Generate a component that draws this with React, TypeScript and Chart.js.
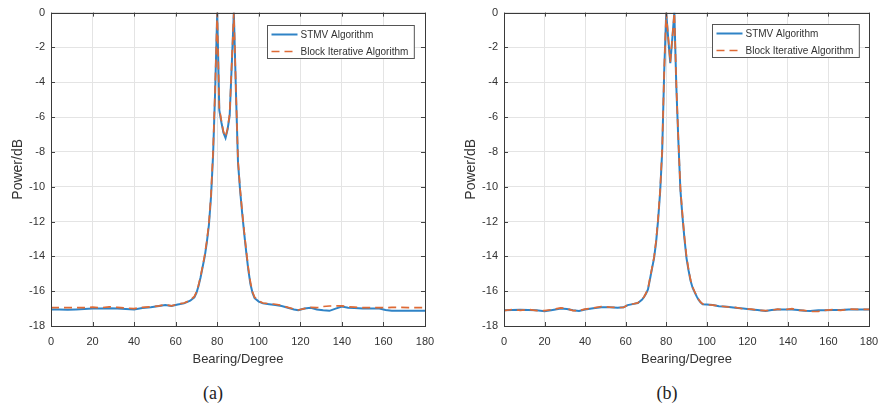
import React, { useEffect, useRef } from "react";
import { Chart, registerables } from "chart.js";
Chart.register(...registerables);

const xTicks = [0, 20, 40, 60, 80, 100, 120, 140, 160, 180];
const yTicks = [0, -2, -4, -6, -8, -10, -12, -14, -16, -18];
const seriesLabels = ["STMV Algorithm", "Block Iterative Algorithm"];
const xTitle = "Bearing/Degree";
const yTitle = "Power/dB";
const captions = ["(a)", "(b)"];

const bearingA = [0, 4, 8, 12, 16, 20, 24, 28, 32, 36, 40, 44, 48, 52, 55, 58, 61, 64, 67,
  69, 70, 71, 72, 73, 74, 75, 76, 77, 78, 79, 80, 81, 82, 83, 84, 85, 86, 87, 88, 89, 90, 91, 92, 93, 94, 95, 96, 97, 98,
  100, 102, 105, 108, 111, 114, 117, 119, 122, 125, 128, 131, 134, 137, 140, 143, 146, 150, 154, 158, 161, 164, 168, 172, 176, 180];
const stmvA = [-17.05, -17.05, -17.06, -17.05, -17.03, -17.0, -17.0, -16.98, -17.0, -17.02, -17.05, -16.97, -16.92, -16.85, -16.8, -16.85, -16.76, -16.7, -16.55,
  -16.35, -16.1, -15.7, -15.2, -14.6, -14.0, -13.2, -12.2, -10.6, -8.2, -4.5, 0, -5.6, -6.3, -6.9, -7.2, -6.7, -5.9, -3.0, 0, -4.5, -8.6, -10.2, -11.5, -12.7, -13.8, -14.8, -15.6, -16.1, -16.4,
  -16.6, -16.7, -16.75, -16.8, -16.85, -16.95, -17.05, -17.1, -17.0, -16.95, -17.05, -17.1, -17.13, -17.0, -16.88, -16.95, -16.97, -17.0, -17.0, -17.0, -17.08, -17.13, -17.13, -17.12, -17.12, -17.12];
const blockA = [-16.95, -16.95, -16.94, -16.95, -16.95, -16.92, -16.95, -16.9, -16.93, -16.97, -17.0, -16.93, -16.9, -16.84, -16.78, -16.84, -16.74, -16.68, -16.53,
  -16.3, -16.05, -15.65, -15.15, -14.55, -13.9, -13.1, -12.1, -10.5, -8.0, -4.3, 0, -5.5, -6.2, -6.85, -7.15, -6.65, -5.8, -2.9, 0, -4.4, -8.5, -10.1, -11.4, -12.6, -13.7, -14.7, -15.5, -16.05, -16.35,
  -16.55, -16.68, -16.72, -16.75, -16.82, -16.93, -17.03, -17.08, -17.0, -16.93, -16.95, -16.88, -16.85, -16.85, -16.84, -16.9, -16.92, -16.95, -16.95, -16.95, -16.95, -16.93, -16.93, -16.94, -16.94, -16.95];

const bearingB = [0, 4, 8, 12, 16, 20, 24, 28, 31, 34, 37, 40, 44, 48, 52, 56, 59, 61, 64, 66, 68,
  69, 70, 71, 72, 73, 74, 75, 76, 77, 78, 79, 80, 81, 82, 83, 84, 85, 86, 87, 88, 89, 90, 91, 92, 93, 94, 95, 96, 97, 98,
  100, 103, 106, 110, 114, 118, 122, 125, 129, 132, 135, 138, 142, 145, 148, 151, 155, 158, 162, 166, 170, 175, 180];
const stmvB = [-17.1, -17.08, -17.07, -17.08, -17.1, -17.15, -17.08, -17.0, -17.03, -17.1, -17.14, -17.05, -16.98, -16.92, -16.93, -16.95, -16.93, -16.8, -16.73, -16.68, -16.5,
  -16.35, -16.15, -15.9, -15.3, -14.7, -14.1, -13.2, -11.9, -10.3, -8.0, -3.4, 0, -1.5, -2.9, -1.5, 0, -4.3, -7.4, -10.2, -11.7, -13.0, -14.1, -14.8, -15.4, -15.8, -16.05, -16.3, -16.5, -16.65, -16.75,
  -16.77, -16.8, -16.87, -16.9, -16.95, -17.0, -17.05, -17.08, -17.14, -17.08, -17.05, -17.05, -17.05, -17.08, -17.12, -17.14, -17.1, -17.1, -17.08, -17.08, -17.05, -17.05, -17.05];
const blockB = [-17.12, -17.05, -17.1, -17.05, -17.12, -17.12, -17.05, -16.96, -17.0, -17.12, -17.12, -17.03, -16.97, -16.88, -16.92, -16.94, -16.93, -16.78, -16.72, -16.67, -16.48,
  -16.33, -16.12, -15.85, -15.25, -14.65, -14.05, -13.1, -11.8, -10.2, -7.9, -3.3, 0, -1.45, -2.85, -1.45, 0, -4.2, -7.3, -10.1, -11.6, -12.9, -14.0, -14.75, -15.35, -15.75, -16.02, -16.28, -16.48, -16.63, -16.74,
  -16.77, -16.8, -16.85, -16.9, -16.93, -17.02, -17.03, -17.1, -17.12, -17.1, -17.03, -17.07, -17.0, -17.1, -17.1, -17.17, -17.16, -17.1, -17.06, -17.1, -17.03, -17.04, -17.05];

const FONT = "'Liberation Sans', Arial, Helvetica, sans-serif";
const BLUE = "#2f83c6";
const ORANGE = "#de6a35";
const CANVAS_W = 444;
const CANVAS_H = 375;

type PanelProps = {
  xs: number[];
  s1: number[];
  s2: number[];
  left: number;
  yAxisW: number;
  padTop: number;
  padRight: number;
  plotBottom: number;
  yTitlePad: number;
  legendRightGap: number;
  legendTopGap: number;
};

function Panel(p: PanelProps) {
  const ref = useRef<HTMLCanvasElement | null>(null);
  useEffect(() => {
    if (!ref.current) return;
    const framePlugin = {
      id: "frameAndLegend",
      afterDatasetsDraw(chart: any) {
        const { ctx, chartArea: a, scales } = chart;
        ctx.save();
        ctx.strokeStyle = "#444";
        ctx.lineWidth = 1;
        const tl = 4;
        ctx.beginPath();
        for (const v of xTicks) {
          const x = Math.round(scales.x.getPixelForValue(v)) + 0.5;
          ctx.moveTo(x, a.bottom);
          ctx.lineTo(x, a.bottom - tl);
          ctx.moveTo(x, a.top);
          ctx.lineTo(x, a.top + tl);
        }
        for (const v of yTicks) {
          const y = Math.round(scales.y.getPixelForValue(v)) + 0.5;
          ctx.moveTo(a.left, y);
          ctx.lineTo(a.left + tl, y);
          ctx.moveTo(a.right, y);
          ctx.lineTo(a.right - tl, y);
        }
        ctx.stroke();
        ctx.strokeStyle = "#3a3a3a";
        ctx.lineWidth = 1;
        ctx.strokeRect(Math.round(a.left) + 0.5, Math.round(a.top) + 0.5, Math.round(a.right - a.left), Math.round(a.bottom - a.top));
        ctx.font = `10px ${FONT}`;
        const textW = Math.max(...seriesLabels.map((s) => ctx.measureText(s).width));
        const sample = 26;
        const boxW = 4 + sample + 3 + textW + 6;
        const boxH = 33;
        const bx = Math.round(a.right - p.legendRightGap - boxW) + 0.5;
        const by = Math.round(a.top + p.legendTopGap) + 0.5;
        ctx.fillStyle = "#ffffff";
        ctx.fillRect(bx, by, boxW, boxH);
        ctx.strokeStyle = "#555";
        ctx.strokeRect(bx, by, boxW, boxH);
        const rows = [by + 9, by + 26];
        chart.data.datasets.forEach((ds: any) => {
          const ry = rows[ds.legendIndex];
          ctx.strokeStyle = ds.borderColor;
          ctx.lineWidth = ds.borderWidth;
          ctx.setLineDash(ds.borderDash || []);
          ctx.beginPath();
          ctx.moveTo(bx + 4, ry);
          ctx.lineTo(bx + 4 + sample, ry);
          ctx.stroke();
          ctx.setLineDash([]);
          ctx.fillStyle = "#333";
          ctx.textBaseline = "middle";
          ctx.textAlign = "left";
          ctx.fillText(ds.label, bx + 4 + sample + 3, ry + 0.5);
        });
        ctx.restore();
      },
    };

    const chart = new Chart(ref.current, {
      type: "line",
      data: {
        datasets: [
          {
            label: seriesLabels[1],
            legendIndex: 1,
            data: p.xs.map((x, i) => ({ x, y: p.s2[i] })),
            borderColor: ORANGE,
            borderWidth: 1.7,
            borderDash: [8, 5],
            pointRadius: 0,
            tension: 0,
            fill: false,
          } as any,
          {
            label: seriesLabels[0],
            legendIndex: 0,
            data: p.xs.map((x, i) => ({ x, y: p.s1[i] })),
            borderColor: BLUE,
            borderWidth: 2,
            pointRadius: 0,
            tension: 0,
            fill: false,
          } as any,
        ],
      },
      options: {
        responsive: false,
        animation: false,
        events: [],
        layout: { padding: { top: p.padTop, right: p.padRight, left: 0, bottom: 0 } },
        plugins: { legend: { display: false }, tooltip: { enabled: false }, title: { display: false } },
        scales: {
          x: {
            type: "linear",
            min: 0,
            max: 180,
            afterBuildTicks: (s: any) => {
              s.ticks = xTicks.map((v) => ({ value: v }));
            },
            afterFit: (s: any) => {
              s.height = CANVAS_H - p.plotBottom;
            },
            ticks: { color: "#333", font: { family: FONT, size: 11 }, padding: 9, maxRotation: 0, autoSkip: false },
            grid: { color: "#e4e4e4", drawTicks: false, lineWidth: 1 },
            border: { display: false },
            title: { display: true, text: xTitle, color: "#333", font: { family: FONT, size: 13 }, padding: { top: 0, bottom: 8 } },
          },
          y: {
            type: "linear",
            min: -18,
            max: 0,
            afterBuildTicks: (s: any) => {
              s.ticks = yTicks.slice().reverse().map((v) => ({ value: v }));
            },
            afterFit: (s: any) => {
              s.width = p.yAxisW;
            },
            ticks: { color: "#333", font: { family: FONT, size: 11 }, padding: 6, autoSkip: false },
            grid: { color: "#e4e4e4", drawTicks: false, lineWidth: 1 },
            border: { display: false },
            title: { display: true, text: yTitle, color: "#333", font: { family: FONT, size: 14 }, padding: { top: p.yTitlePad, bottom: 0 } },
          },
        },
      } as any,
      plugins: [framePlugin],
    });
    return () => chart.destroy();
  }, []);
  return (
    <canvas
      ref={ref}
      width={CANVAS_W}
      height={CANVAS_H}
      style={{ position: "absolute", left: p.left, top: 0, width: CANVAS_W, height: CANVAS_H }}
    />
  );
}

export default function App() {
  return (
    <div style={{ position: "fixed", left: 0, top: 0, width: 888, height: 406, background: "#fff", overflow: "hidden" }}>
      <Panel xs={bearingA} s1={stmvA} s2={blockA} left={0} yAxisW={51} padTop={11} padRight={19} plotBottom={326} yTitlePad={10} legendRightGap={11} legendTopGap={12} />
      <Panel xs={bearingB} s1={stmvB} s2={blockB} left={444} yAxisW={60} padTop={12.5} padRight={19} plotBottom={326} yTitlePad={19} legendRightGap={10} legendTopGap={11.5} />
      <div style={{ position: "absolute", left: 0, top: 382, width: 426, textAlign: "center", font: "18px 'Liberation Serif', 'DejaVu Serif', serif", lineHeight: "22px", color: "#222" }}>{captions[0]}</div>
      <div style={{ position: "absolute", left: 454, top: 382, width: 426, textAlign: "center", font: "18px 'Liberation Serif', 'DejaVu Serif', serif", lineHeight: "22px", color: "#222" }}>{captions[1]}</div>
    </div>
  );
}
